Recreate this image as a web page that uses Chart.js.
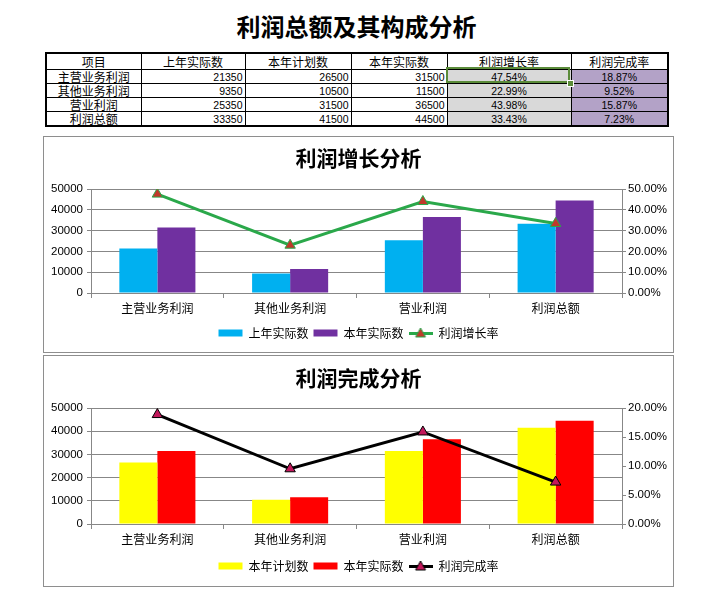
<!DOCTYPE html>
<html><head><meta charset="utf-8">
<script src="https://cdn.jsdelivr.net/npm/chart.js@4.4.1/dist/chart.umd.min.js"></script>
<style>
html,body{margin:0;padding:0;background:#fff;width:726px;height:610px;overflow:hidden;}
#pageTitle{position:absolute;left:0;width:713px;top:11px;text-align:center;font-family:"Noto Sans CJK SC";font-weight:bold;font-size:24px;line-height:30px;color:#000;}
#tbl{position:absolute;left:45px;top:52px;width:622px;border-collapse:collapse;table-layout:fixed;border:2px solid #000;}
#tbl td{border:1px solid #000;padding:0 2px;line-height:12px;font-family:"Noto Sans CJK SC";font-size:12px;white-space:nowrap;overflow:hidden;color:#000;}
#tbl tr.h td{height:15px;text-align:center;background:#fff;}
#tbl tr.r td{height:13px;}
#tbl td.name{text-align:center;}
#tbl td.num{text-align:right;font-family:"Liberation Sans";font-size:10.5px;}
#tbl td.g{text-align:center;font-family:"Liberation Sans";font-size:10.5px;background:#d9d9d9;}
#tbl td.p{text-align:center;font-family:"Liberation Sans";font-size:10.5px;background:#b3a2c7;}
#sel{position:absolute;left:446px;top:67px;width:124px;height:16px;border:2px solid #5b8c3a;box-sizing:border-box;}
#selH{position:absolute;left:567px;top:80px;width:5px;height:5px;background:#5b8c3a;border:1px solid #fff;}
.box{position:absolute;left:43px;width:631px;border:1px solid #8e8e8e;box-sizing:border-box;background:#fff;}
.box canvas{position:absolute;left:0;top:0;}
</style></head>
<body>
<div id="pageTitle">利润总额及其构成分析</div>
<table id="tbl"><colgroup id="cols"></colgroup><tbody id="tb"></tbody></table>
<div id="sel"></div><div id="selH"></div>
<div class="box" style="top:136px;height:217px;"><canvas id="c1" width="629" height="215"></canvas></div>
<div class="box" style="top:355px;height:232px;"><canvas id="c2" width="629" height="230"></canvas></div>
<script>
const tableHeaders = ['项目','上年实际数','本年计划数','本年实际数','利润增长率','利润完成率'];
const categories = ['主营业务利润','其他业务利润','营业利润','利润总额'];
const lastYearActual = [21350, 9350, 25350, 33350];
const planThisYear = [26500, 10500, 31500, 41500];
const actualThisYear = [31500, 11500, 36500, 44500];
const growthRate = [47.54, 22.99, 43.98, 33.43];
const completionRate = [18.87, 9.52, 15.87, 7.23];

// table
const colWidths = [95,104,106,96,124,97];
const cols = document.getElementById('cols');
colWidths.forEach(w => { const c = document.createElement('col'); c.style.width = w + 'px'; cols.appendChild(c); });
const tb = document.getElementById('tb');
const hr = document.createElement('tr'); hr.className = 'h';
tableHeaders.forEach(t => { const td = document.createElement('td'); td.textContent = t; hr.appendChild(td); });
tb.appendChild(hr);
categories.forEach((cat, i) => {
  const tr = document.createElement('tr'); tr.className = 'r';
  const cells = [
    [cat, 'name'], [lastYearActual[i], 'num'], [planThisYear[i], 'num'], [actualThisYear[i], 'num'],
    [growthRate[i].toFixed(2) + '%', 'g'], [completionRate[i].toFixed(2) + '%', 'p']
  ];
  cells.forEach(([v, cls]) => { const td = document.createElement('td'); td.textContent = v; td.className = cls; tr.appendChild(td); });
  tb.appendChild(tr);
});

function makeLineIcon(lineColor, fill) {
  const c = document.createElement('canvas'); c.width = 24; c.height = 12;
  const g = c.getContext('2d');
  g.strokeStyle = lineColor; g.lineWidth = 3;
  g.beginPath(); g.moveTo(0, 6.5); g.lineTo(24, 6.5); g.stroke();
  g.fillStyle = fill; g.strokeStyle = lineColor; g.lineWidth = 1;
  g.beginPath(); g.moveTo(12, 1); g.lineTo(17, 10); g.lineTo(7, 10); g.closePath(); g.fill(); g.stroke();
  return c;
}

const axisGray = '#878787';
function buildChart(id, cfg) {
  const icon = makeLineIcon(cfg.lineColor, cfg.markerColor);
  return new Chart(document.getElementById(id), {
    data: {
      labels: categories,
      datasets: [
        {type:'bar', label: cfg.barLabels[0], data: cfg.bar1, backgroundColor: cfg.barColors[0], yAxisID:'y', order:1, categoryPercentage:0.573, barPercentage:1},
        {type:'bar', label: cfg.barLabels[1], data: cfg.bar2, backgroundColor: cfg.barColors[1], yAxisID:'y', order:1, categoryPercentage:0.573, barPercentage:1},
        {type:'line', label: cfg.lineLabel, data: cfg.rate, borderColor: cfg.lineColor, borderWidth:3, pointStyle:'triangle', pointRadius:6, pointBackgroundColor: cfg.markerColor, pointBorderColor: cfg.lineColor, pointBorderWidth:1, yAxisID:'y1', order:0, tension:0, fill:false}
      ]
    },
    options: {
      responsive:false, animation:false, devicePixelRatio:1,
      layout:{padding:{top:0,left:0,right:0,bottom:cfg.padBottom}},
      plugins:{
        title:{display:true, text: cfg.title, color:'#000', font:{family:'Noto Sans CJK SC', size:21, weight:'bold'}, padding:{top:cfg.titleTop, bottom:cfg.titleBottom}},
        legend:{position:'bottom', labels:{usePointStyle:true, pointStyleWidth:24, boxHeight:7, padding:5, color:'#000', font:{family:'Noto Sans CJK SC', size:12},
          generateLabels: chart => chart.data.datasets.map((ds, i) => ({
            text: ds.label,
            fillStyle: ds.type === 'line' ? 'rgba(0,0,0,0)' : ds.backgroundColor,
            strokeStyle: 'rgba(0,0,0,0)', lineWidth: 0,
            pointStyle: ds.type === 'line' ? icon : 'rect',
            hidden: !chart.isDatasetVisible(i), datasetIndex: i, fontColor:'#000'
          }))}},
        tooltip:{enabled:false}
      },
      scales:{
        x:{grid:{offset:true, drawOnChartArea:false, drawTicks:true, tickLength:5, color:axisGray}, border:{color:axisGray},
           ticks:{color:'#000', font:{family:'Noto Sans CJK SC', size:12}, padding:3, maxRotation:0},
           afterFit: s => { s.height = cfg.xHeight; }},
        y:{position:'left', min:0, max:50000, ticks:{stepSize:10000, autoSkip:false, color:'#000', font:{family:'Liberation Sans', size:11.5}, padding:4, callback: v => String(v)},
           grid:{color:axisGray, tickLength:4}, border:{color:axisGray}, afterFit: s => { s.width = 47; }},
        y1:{position:'right', min:0, max:cfg.rMax, ticks:{stepSize:cfg.rStep, autoSkip:false, color:'#000', font:{family:'Liberation Sans', size:11.5}, padding:2, callback: v => Number(v).toFixed(2) + '%'},
           grid:{drawOnChartArea:false, tickLength:4, color:axisGray}, border:{color:axisGray}, afterFit: s => { s.width = 51; }}
      }
    }
  });
}

buildChart('c1', {
  title:'利润增长分析', barLabels:['上年实际数','本年实际数'], lineLabel:'利润增长率',
  bar1:lastYearActual, bar2:actualThisYear, rate:growthRate,
  barColors:['#00b0f0','#7030a0'], lineColor:'#2aa84a', markerColor:'#c0392b',
  rMax:50, rStep:10, titleTop:8.4, titleBottom:18.4, padBottom:3, xHeight:29
});
buildChart('c2', {
  title:'利润完成分析', barLabels:['本年计划数','本年实际数'], lineLabel:'利润完成率',
  bar1:planThisYear, bar2:actualThisYear, rate:completionRate,
  barColors:['#ffff00','#ff0000'], lineColor:'#000000', markerColor:'#c2185b',
  rMax:20, rStep:5, titleTop:9.4, titleBottom:17.4, padBottom:4, xHeight:31
});
</script>
</body></html>
